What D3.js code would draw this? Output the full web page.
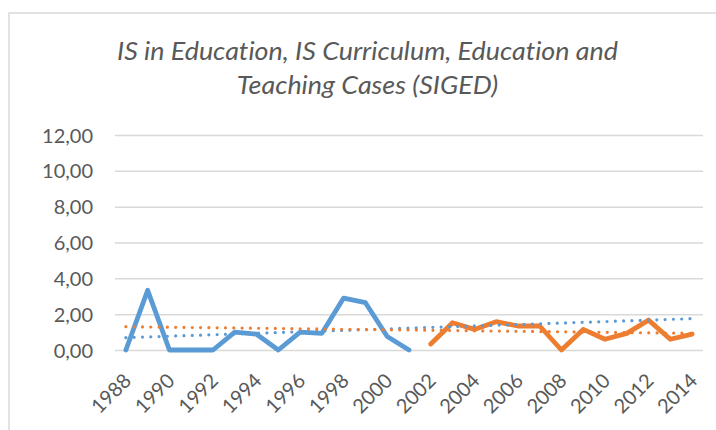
<!DOCTYPE html>
<html>
<head>
<meta charset="utf-8">
<script src="https://cdn.jsdelivr.net/npm/d3@7"></script>
<style>
  body { margin: 0; background: #ffffff; }
  svg text { font-family: Lato, "Open Sans", "DejaVu Sans", sans-serif; fill: #595959; font-variant-ligatures: none; }
</style>
</head>
<body>
<div id="my_chart"></div>
<script>
var years = ["1988","1989","1990","1991","1992","1993","1994","1995","1996","1997","1998","1999","2000","2001",
             "2002","2003","2004","2005","2006","2007","2008","2009","2010","2011","2012","2013","2014"];
// first series (blue) runs 1988-2001, second (orange) 2002-2014
var blue_values = [0, 3.33, 0, 0, 0, 1.0, 0.88, 0, 1.0, 0.93, 2.9, 2.64, 0.75, 0,
                   null, null, null, null, null, null, null, null, null, null, null, null, null];
var orange_values = [null, null, null, null, null, null, null, null, null, null, null, null, null, null,
                     0.33, 1.52, 1.15, 1.58, 1.34, 1.34, 0, 1.15, 0.6, 0.93, 1.67, 0.6, 0.89];
// linear trend lines, start and end
var trend_years = ["1988", "2014"];
var blue_trend = [0.69, 1.75];
var orange_trend = [1.30, 0.93];
var y_ticks = [0, 2, 4, 6, 8, 10, 12];
var x_tick_labels = ["1988","1990","1992","1994","1996","1998","2000","2002","2004","2006","2008","2010","2012","2014"];
var title_lines = ["IS in Education, IS Curriculum, Education and", "Teaching Cases (SIGED)"];

var blue_color = "#5B9BD5";
var orange_color = "#ED7D31";
var grid_color = "#D9D9D9";

var width = 716, height = 430;
var plot = {left: 115, right: 703, top: 135, bottom: 350};

var svg = d3.select("#my_chart")
  .append("svg")
  .attr("width", width)
  .attr("height", height);

svg.append("rect")
  .attr("width", width)
  .attr("height", height)
  .attr("fill", "#ffffff");

// chart area border (runs off the right and bottom edges)
svg.append("rect")
  .attr("x", 9)
  .attr("y", 13)
  .attr("width", width + 20)
  .attr("height", height + 20)
  .attr("fill", "none")
  .attr("stroke", grid_color)
  .attr("stroke-width", 1.5);

// title, squeezed to the width
var title = svg.append("g");
title.selectAll("text")
  .data(title_lines).enter()
  .append("text")
  .attr("x", 367.5)
  .attr("y", function(d, i) { return 60 + i * 33.5; })
  .attr("text-anchor", "middle")
  .style("font-style", "italic")
  .style("font-size", "24.5px")
  .text(function(d) { return d; });
var first_w = title.select("text").node().getComputedTextLength();
var squeeze = 501 / first_w;
title.selectAll("text").each(function() {
  var w = this.getComputedTextLength();
  d3.select(this)
    .attr("textLength", w * squeeze)
    .attr("lengthAdjust", "spacingAndGlyphs");
});

// scales
var x = d3.scalePoint()
  .domain(years)
  .range([plot.left, plot.right])
  .padding(0.5);

var y = d3.scaleLinear()
  .domain([0, 12])
  .range([plot.bottom, plot.top]);

// gridlines
svg.append("g")
  .attr("transform", "translate(" + plot.left + ",0)")
  .call(d3.axisLeft(y).tickValues(y_ticks).tickSize(-(plot.right - plot.left)).tickFormat(""))
  .call(function(g) { g.select(".domain").remove(); })
  .call(function(g) { g.selectAll("line").attr("stroke", grid_color).attr("stroke-width", 1.5); });

// y labels
svg.append("g")
  .attr("transform", "translate(" + plot.left + ",0)")
  .call(d3.axisLeft(y).tickValues(y_ticks).tickSize(0).tickPadding(22)
    .tickFormat(function(d) { return d3.format(".2f")(d).replace(".", ","); }))
  .call(function(g) { g.select(".domain").remove(); })
  .call(function(g) {
    g.selectAll("text")
      .style("font-size", "20px")
      .attr("fill", "#595959")
      .attr("dy", "0.35em");
  });

// x labels, rotated
svg.append("g")
  .attr("transform", "translate(0," + plot.bottom + ")")
  .call(d3.axisBottom(x).tickValues(x_tick_labels).tickSize(0))
  .call(function(g) { g.select(".domain").remove(); })
  .call(function(g) {
    g.selectAll("text")
      .style("font-size", "20px")
      .attr("fill", "#595959")
      .attr("text-anchor", "end")
      .attr("y", 0)
      .attr("dy", 0)
      .attr("transform", "translate(6,32) rotate(-45)");
  });

// series lines
var line = d3.line()
  .defined(function(d) { return d != null; })
  .x(function(d, i) { return x(years[i]); })
  .y(function(d) { return y(d); });

svg.append("path")
  .datum(blue_values)
  .attr("fill", "none")
  .attr("stroke", blue_color)
  .attr("stroke-width", 4.8)
  .attr("stroke-linejoin", "round")
  .attr("stroke-linecap", "round")
  .attr("d", line);

svg.append("path")
  .datum(orange_values)
  .attr("fill", "none")
  .attr("stroke", orange_color)
  .attr("stroke-width", 4.8)
  .attr("stroke-linejoin", "round")
  .attr("stroke-linecap", "round")
  .attr("d", line);

// trend lines (round dots)
var trend = d3.line()
  .x(function(d, i) { return x(trend_years[i]); })
  .y(function(d) { return y(d); });

[[blue_trend, blue_color], [orange_trend, orange_color]].forEach(function(t) {
  svg.append("path")
    .datum(t[0])
    .attr("fill", "none")
    .attr("stroke", t[1])
    .attr("stroke-width", 3.2)
    .attr("stroke-linecap", "round")
    .style("stroke-dasharray", "0, 8.3")
    .attr("d", trend);
});
</script>
</body>
</html>
